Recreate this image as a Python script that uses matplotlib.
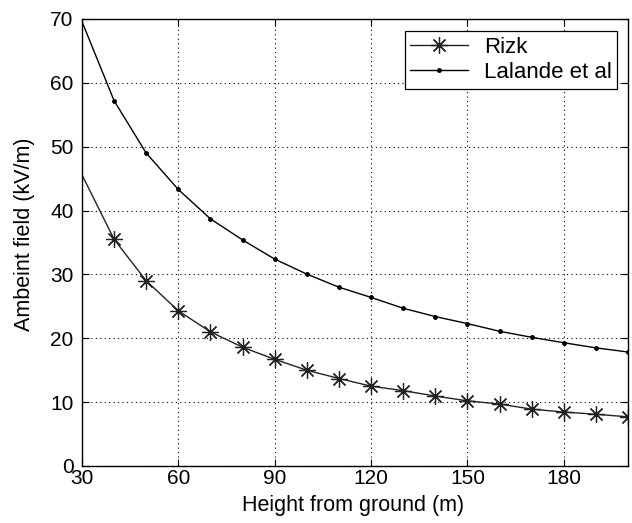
import matplotlib
matplotlib.use("Agg")
import matplotlib.pyplot as plt

plt.rcParams['font.family'] = ['Liberation Sans', 'DejaVu Sans']

heights = [30, 40, 50, 60, 70, 80, 90, 100, 110, 120, 130, 140, 150, 160, 170, 180, 190, 200]
rizk = [45.6, 35.5, 29.0, 24.3, 21.0, 18.6, 16.7, 15.0, 13.7, 12.5, 11.8, 10.95, 10.2, 9.7, 8.9, 8.45, 8.1, 7.7]
lalande = [69.6, 57.2, 49.0, 43.3, 38.7, 35.4, 32.4, 30.05, 28.0, 26.4, 24.7, 23.4, 22.3, 21.1, 20.15, 19.3, 18.5, 17.85]
xticks = [30, 60, 90, 120, 150, 180]
yticks = [0, 10, 20, 30, 40, 50, 60, 70]

fig = plt.figure(figsize=(6.32, 5.23), dpi=100)
ax = fig.add_axes([0.1297, 0.109, 0.8640, 0.8547])

ax.plot(heights, rizk, color='#222222', lw=1.0, marker=(8, 2, 0), markersize=12,
        markeredgewidth=0.9, markevery=slice(1, None), label='Rizk')
ax.plot(heights, lalande, color='black', lw=1.0, marker='.', markersize=5,
        markevery=slice(1, None), label='Lalande et al')

ax.set_xlim(30, 200)
ax.set_ylim(0, 70)
ax.set_xticks(xticks)
ax.set_yticks(yticks)
ax.grid(True, color='black', linestyle=(0, (1, 3)), linewidth=0.8)
ax.tick_params(direction='in', top=True, right=True, labelsize=15, length=5, width=0.8)
ax.tick_params(axis='x', pad=2)
ax.tick_params(axis='y', pad=6)
for s in ax.spines.values():
    s.set_linewidth(1.0)

ax.set_xlabel('Height from ground (m)', fontsize=15.5)
ax.set_ylabel('Ambeint field (kV/m)', fontsize=15.5)
ax.xaxis.set_label_coords(0.4963, -0.064)
ax.yaxis.set_label_coords(-0.086, 0.519)

leg = ax.legend(loc='upper right', fontsize=16, frameon=True, fancybox=False,
                edgecolor='black', framealpha=1, handlelength=2.6,
                borderpad=0.25, labelspacing=0.2, handletextpad=0.7,
                borderaxespad=0, bbox_to_anchor=(0.980, 0.973))
leg.get_frame().set_linewidth(0.9)

fig.savefig('out.png', dpi=100)
